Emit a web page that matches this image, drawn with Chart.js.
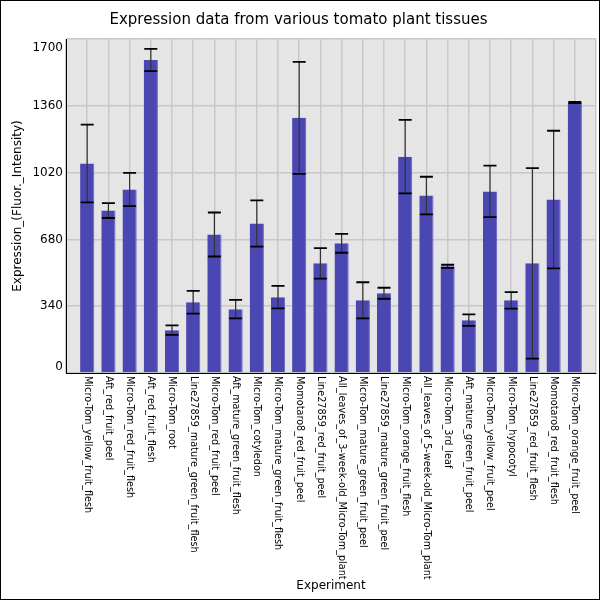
<!DOCTYPE html>
<html>
<head>
<meta charset="utf-8">
<script src="https://cdn.jsdelivr.net/npm/chart.js@4"></script>
<style>
  body { margin: 0; background: #fff; }
  #marco { width: 600px; height: 600px; box-sizing: border-box; border: 1px solid #000; }
  #caja { position: relative; width: 598px; height: 598px; }
</style>
</head>
<body>
<div id="marco"><div id="caja"><canvas id="myChart"></canvas></div></div>
<script>
// Datos
const experimentos = [
    'Micro-Tom_yellow_fruit_flesh', 'Aft_red_fruit_peel', 'Micro-Tom_red_fruit_flesh',
    'Aft_red_fruit_flesh', 'Micro-Tom_root', 'Line27859_mature_green_fruit_flesh',
    'Micro-Tom_red_fruit_peel', 'Aft_mature_green_fruit_flesh', 'Micro-Tom_cotyledon',
    'Micro-Tom_mature_green_fruit_flesh', 'Momotaro8_red_fruit_peel', 'Line27859_red_fruit_peel',
    'All_leaves_of_3-week-old_Micro-Tom_plant', 'Micro-Tom_mature_green_fruit_peel',
    'Line27859_mature_green_fruit_peel', 'Micro-Tom_orange_fruit_flesh',
    'All_leaves_of_5-week-old_Micro-Tom_plant', 'Micro-Tom_3rd_leaf',
    'Aft_mature_green_fruit_peel', 'Micro-Tom_yellow_fruit_peel', 'Micro-Tom_hypocotyl',
    'Line27859_red_fruit_flesh', 'Momotaro8_red_fruit_flesh', 'Micro-Tom_orange_fruit_peel'
]
const expresion = [1066, 827, 934, 1593, 218, 360, 705, 325, 761, 386, 1299, 558,
                   660, 370, 406, 1101, 903, 543, 269, 924, 370, 558, 883, 1377]
const errores = [198, 38, 85, 57, 24, 58, 112, 47, 118, 57, 285, 78,
                 48, 92, 28, 187, 96, 8, 29, 131, 42, 485, 350, 3]
const ticks_y = [0, 340, 680, 1020, 1360, 1700]

// un hueco vacio a cada lado, como en el original
const etiquetas = [''].concat(experimentos, [''])
const valores = [null].concat(expresion, [null])

const fondo = {
    id: 'fondo',
    beforeDraw(chart) {
        const { ctx, chartArea } = chart
        ctx.save()
        ctx.fillStyle = '#e5e5e5'
        ctx.fillRect(chartArea.left, chartArea.top, chartArea.right - chartArea.left, chartArea.bottom - chartArea.top)
        ctx.restore()
    }
}

const barras_error = {
    id: 'barras_error',
    afterDatasetsDraw(chart) {
        const ctx = chart.ctx
        const y = chart.scales.y
        const meta = chart.getDatasetMeta(0)
        ctx.save()
        for (let i = 0; i < expresion.length; i++) {
            const barra = meta.data[i + 1]
            const x = barra.x
            const arriba = y.getPixelForValue(expresion[i] + errores[i])
            const abajo = y.getPixelForValue(expresion[i] - errores[i])
            ctx.strokeStyle = '#333'
            ctx.lineWidth = 1.2
            ctx.beginPath()
            ctx.moveTo(x, arriba)
            ctx.lineTo(x, abajo)
            ctx.stroke()
            ctx.strokeStyle = '#000'
            ctx.lineWidth = 1.8
            ctx.beginPath()
            ctx.moveTo(x - 6.5, arriba); ctx.lineTo(x + 6.5, arriba)
            ctx.moveTo(x - 6.5, abajo); ctx.lineTo(x + 6.5, abajo)
            ctx.stroke()
        }
        ctx.restore()
    }
}

const etiquetas_ejes = {
    id: 'etiquetas_ejes',
    afterDraw(chart) {
        const { ctx, chartArea } = chart
        const sx = chart.scales.x
        const sy = chart.scales.y
        ctx.save()
        ctx.fillStyle = '#000'
        // eje x, texto girado hacia abajo
        ctx.font = '9.7px "DejaVu Sans"'
        ctx.textAlign = 'left'
        ctx.textBaseline = 'middle'
        for (let i = 0; i < experimentos.length; i++) {
            const x = sx.getPixelForTick(i + 1)
            ctx.save()
            ctx.translate(x, chartArea.bottom + 3)
            ctx.rotate(Math.PI / 2)
            ctx.fillText(experimentos[i], 0, 0)
            ctx.restore()
        }
        // eje y
        ctx.font = '12px "DejaVu Sans"'
        ctx.textAlign = 'right'
        for (const t of ticks_y) {
            let py = sy.getPixelForValue(t)
            py = Math.min(Math.max(py, chartArea.top + 9), chartArea.bottom - 6)
            ctx.fillText(String(t), chartArea.left - 3, py)
        }
        ctx.restore()
    }
}

const config = {
    type: 'bar',
    data: {
        labels: etiquetas,
        datasets: [{
            label: 'Expression',
            data: valores,
            backgroundColor: '#4a46b2',
            borderColor: '#6662c2',
            borderWidth: { left: 0, right: 1, top: 0, bottom: 0 },
            barPercentage: 0.67,
            categoryPercentage: 1.0
        }]
    },
    options: {
        responsive: true,
        maintainAspectRatio: false,
        animation: false,
        events: [],
        layout: { padding: { left: 0, right: 3, top: 0, bottom: 0 } },
        plugins: {
            legend: { display: false },
            tooltip: { enabled: false },
            title: {
                display: true,
                text: 'Expression data from various tomato plant tissues',
                color: '#000',
                font: { family: 'DejaVu Sans', size: 15, weight: 'normal' },
                padding: { top: 10, bottom: 10 }
            }
        },
        scales: {
            x: {
                offset: false,
                grid: { offset: false, color: '#c8c8c8', lineWidth: 1.5, drawTicks: false },
                border: { display: true, color: '#000', width: 1 },
                ticks: { display: false },
                title: {
                    display: true,
                    text: 'Experiment',
                    color: '#000',
                    font: { family: 'DejaVu Sans', size: 12 },
                    padding: { top: 0, bottom: 6 }
                },
                afterFit(scale) { scale.height = 226 }
            },
            y: {
                min: 0,
                max: 1700,
                afterBuildTicks(scale) { scale.ticks = ticks_y.map(v => ({ value: v })) },
                grid: { color: '#c8c8c8', lineWidth: 1.5, drawTicks: false },
                border: { display: true, color: '#000', width: 1 },
                ticks: { display: false },
                title: {
                    display: true,
                    text: 'Expression_(Fluor._Intensity)',
                    color: '#000',
                    font: { family: 'DejaVu Sans', size: 12 },
                    padding: { top: 10, bottom: 0 }
                },
                afterFit(scale) { scale.width = 65 }
            }
        }
    },
    plugins: [fondo, barras_error, etiquetas_ejes]
}

const myChart = new Chart(document.getElementById('myChart'), config)
</script>
</body>
</html>
